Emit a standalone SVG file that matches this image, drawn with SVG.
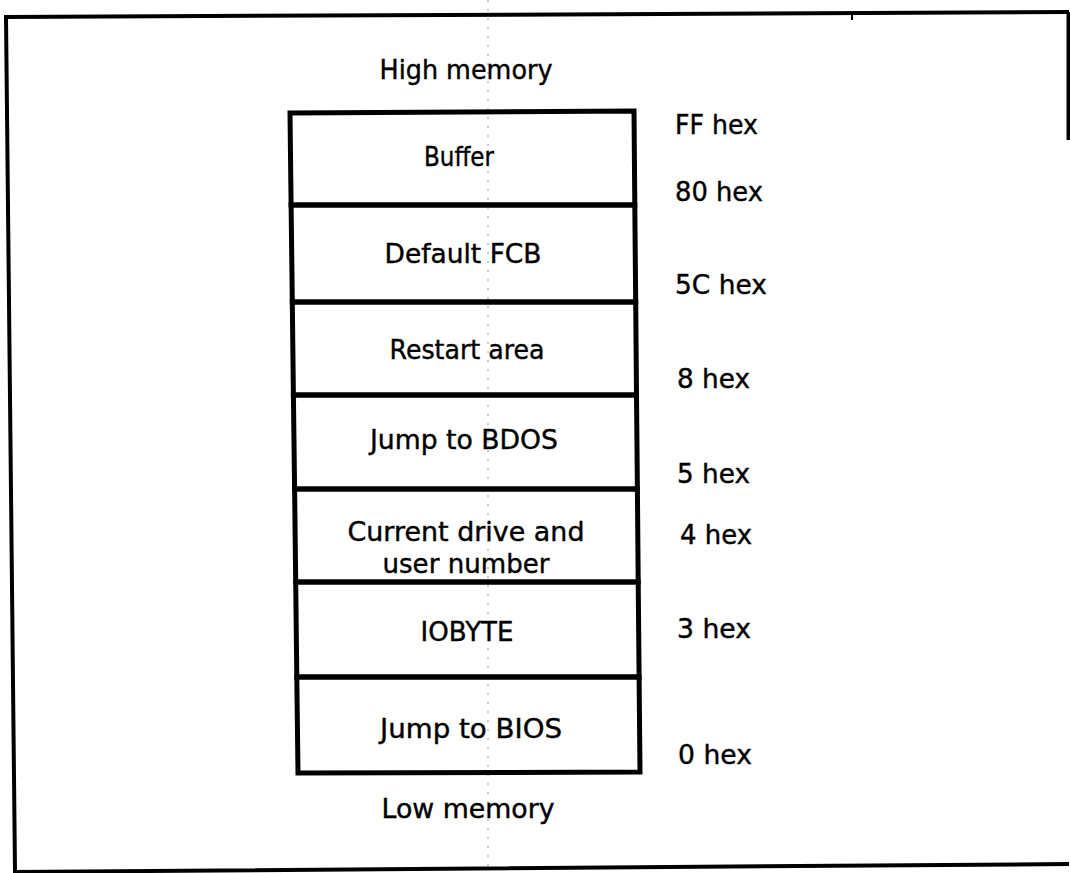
<svg xmlns="http://www.w3.org/2000/svg" width="1070" height="873" viewBox="0 0 1070 873">
<style>
  .frame{fill:none;stroke:#000;stroke-width:4}
  .blk{fill:none;stroke:#000;stroke-width:5;stroke-linejoin:miter}
  .t{font-family:"DejaVu Sans","Liberation Sans",sans-serif;font-size:26px;fill:#000;stroke:#000;stroke-width:0.4}
  .c{text-anchor:middle}
  .fold{stroke:#999;stroke-width:1;stroke-dasharray:2 7;fill:none}
</style>
<rect width="1070" height="873" fill="#fff"/>
<g id="frame">
  <path class="frame" d="M1069,12 L6,17 L15,872 L1069,864"/>
  <path class="frame" d="M1068.5,12 L1068.5,140"/>
  <line x1="852" y1="12" x2="852" y2="20" stroke="#000" stroke-width="2"/>
</g>
<line class="fold" x1="488" y1="0" x2="488" y2="873"/>
<g id="labels">
  <text class="t c" x="466" y="79" textLength="173" lengthAdjust="spacingAndGlyphs">High memory</text>
  <text class="t c" x="468" y="818" textLength="173" lengthAdjust="spacingAndGlyphs">Low memory</text>
</g>
<g id="block-buffer">
  <polygon class="blk" points="290,113 634,111 634.8,205 291.1,205"/>
  <text class="t c" x="459" y="166" textLength="70" lengthAdjust="spacingAndGlyphs">Buffer</text>
</g>
<g id="block-fcb">
  <polygon class="blk" points="291.1,205 634.8,205 635.7,302 292.3,302"/>
  <text class="t c" x="463" y="263" textLength="157" lengthAdjust="spacingAndGlyphs">Default FCB</text>
</g>
<g id="block-restart">
  <polygon class="blk" points="292.3,302 635.7,302 636.5,395 293.4,395"/>
  <text class="t c" x="467" y="359" textLength="155" lengthAdjust="spacingAndGlyphs">Restart area</text>
</g>
<g id="block-bdos">
  <polygon class="blk" points="293.4,395 636.5,395 637.4,489 294.6,489"/>
  <text class="t c" x="464" y="449" textLength="188" lengthAdjust="spacingAndGlyphs">Jump to BDOS</text>
</g>
<g id="block-drive">
  <polygon class="blk" points="294.6,489 637.4,489 638.2,582 295.7,582"/>
  <text class="t c" x="466" y="541" textLength="237" lengthAdjust="spacingAndGlyphs">Current drive and</text>
  <text class="t c" x="466" y="573" textLength="167" lengthAdjust="spacingAndGlyphs">user number</text>
</g>
<g id="block-iobyte">
  <polygon class="blk" points="295.7,582 638.2,582 639.1,677 296.8,677"/>
  <text class="t c" x="467" y="641" textLength="93" lengthAdjust="spacingAndGlyphs">IOBYTE</text>
</g>
<g id="block-bios">
  <polygon class="blk" points="296.8,677 639.1,677 640,772 298,773"/>
  <text class="t c" x="471" y="738" textLength="182" lengthAdjust="spacingAndGlyphs">Jump to BIOS</text>
</g>
<g id="addresses">
  <text class="t" x="675" y="134" textLength="83" lengthAdjust="spacingAndGlyphs">FF hex</text>
  <text class="t" x="675" y="201" textLength="88" lengthAdjust="spacingAndGlyphs">80 hex</text>
  <text class="t" x="675" y="294" textLength="92" lengthAdjust="spacingAndGlyphs">5C hex</text>
  <text class="t" x="677" y="388" textLength="73" lengthAdjust="spacingAndGlyphs">8 hex</text>
  <text class="t" x="677" y="483" textLength="73" lengthAdjust="spacingAndGlyphs">5 hex</text>
  <text class="t" x="680" y="544" textLength="72" lengthAdjust="spacingAndGlyphs">4 hex</text>
  <text class="t" x="677" y="638" textLength="74" lengthAdjust="spacingAndGlyphs">3 hex</text>
  <text class="t" x="678" y="764" textLength="74" lengthAdjust="spacingAndGlyphs">0 hex</text>
</g>
</svg>
